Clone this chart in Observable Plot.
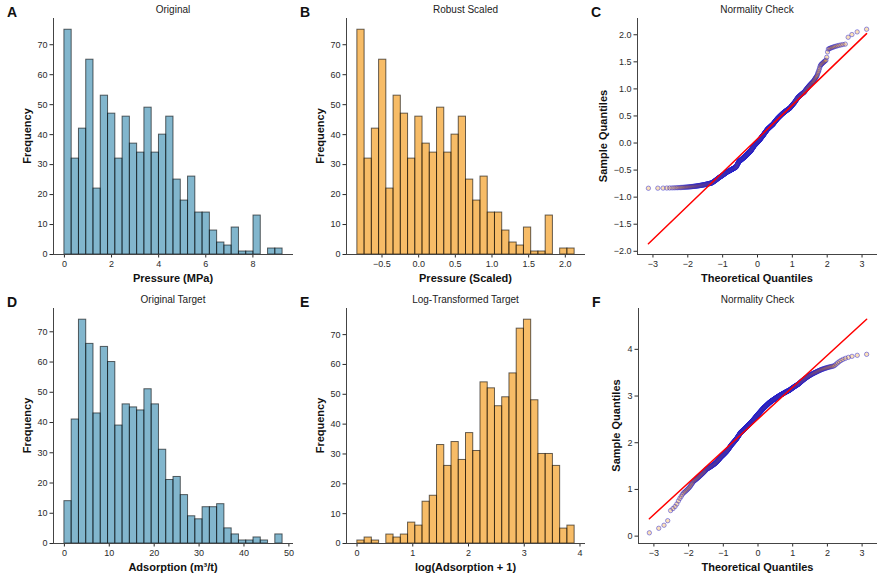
<!DOCTYPE html>
<html>
<head>
<meta charset="utf-8">
<script src="https://cdn.jsdelivr.net/npm/d3@7"></script>
<script src="https://cdn.jsdelivr.net/npm/@observablehq/plot@0.6"></script>
<style>
  body { margin: 0; background: #fff; }
  #fig { position: relative; width: 884px; height: 580px; overflow: hidden; }
  #fig svg.panel { position: absolute; overflow: visible; }
  #labels { position: absolute; left: 0; top: 0; pointer-events: none; }
</style>
</head>
<body>
<div id="fig"></div>
<script>
// ---- Histogram data (30 bins each) ----
const pressureCounts = [75,32,42,65,22,53,47,32,46,37,34,49,34,40,46,25,18,26,14,14,8,4,3,9,1,1,13,0,2,2];
const pressureRange = [0.0, 9.26];            // MPa
const pressureScaledRange = [-0.836, 2.127];  // robust-scaled
const adsorptionCounts = [14,41,74,66,43,65,60,39,46,45,44,51,46,31,21,22,16,9,8,12,12,13,5,3,1,1,2,1,0,3];
const adsorptionRange = [0.006, 48.6];        // m³/t
const logAdsorptionCounts = [1,2,1,0,3,2,3,7,6,14,16,33,26,34,28,37,31,54,52,46,49,57,72,75,48,30,30,26,5,6];
const logAdsorptionRange = [0.006, 3.904];

// ---- Tick values ----
const freqTicks = [0,10,20,30,40,50,60,70];
const pressureTicks = [0,2,4,6,8];
const scaledTicks = [-0.5,0,0.5,1,1.5,2];
const adsorptionTicks = [0,10,20,30,40,50];
const logTicks = [0,1,2,3,4];
const theoTicks = [-3,-2,-1,0,1,2,3];
const qqScaledTicks = [-2,-1.5,-1,-0.5,0,0.5,1,1.5,2];
const qqLogTicks = [0,1,2,3,4];

const BLUE = "#2E86AB", ORANGE = "#F18F01";
const FONT = "'Liberation Sans', Arial, Helvetica, sans-serif";

// ---- helpers ----
function binsFrom(counts, [lo, hi]) {
  const w = (hi - lo) / counts.length;
  return counts.map((c, i) => ({x1: lo + i * w, x2: lo + (i + 1) * w, count: c}));
}
// sample values spread evenly inside each histogram bin (sorted)
function samplesFrom(counts, range) {
  const out = [];
  for (const b of binsFrom(counts, range)) {
    for (let j = 0; j < b.count; j++) out.push(b.x1 + (j + 0.5) / b.count * (b.x2 - b.x1));
  }
  return out;
}
// inverse standard normal CDF (Acklam)
function normInv(p) {
  const a=[-3.969683028665376e+01,2.209460984245205e+02,-2.759285104469687e+02,1.383577518672690e+02,-3.066479806614716e+01,2.506628277459239e+00];
  const b=[-5.447609879822406e+01,1.615858368580409e+02,-1.556989798598866e+02,6.680131188771972e+01,-1.328068155288572e+01];
  const c=[-7.784894002430293e-03,-3.223964580411365e-01,-2.400758277161838e+00,-2.549732539343734e+00,4.374664141464968e+00,2.938163982698783e+00];
  const d=[7.784695709041462e-03,3.224671290700398e-01,2.445134137142996e+00,3.754408661907416e+00];
  const pl = 0.02425, ph = 1 - pl;
  let q, r;
  if (p < pl) { q = Math.sqrt(-2*Math.log(p)); return (((((c[0]*q+c[1])*q+c[2])*q+c[3])*q+c[4])*q+c[5])/((((d[0]*q+d[1])*q+d[2])*q+d[3])*q+1); }
  if (p <= ph) { q = p - 0.5; r = q*q; return (((((a[0]*r+a[1])*r+a[2])*r+a[3])*r+a[4])*r+a[5])*q/(((((b[0]*r+b[1])*r+b[2])*r+b[3])*r+b[4])*r+1); }
  q = Math.sqrt(-2*Math.log(1-p)); return -(((((c[0]*q+c[1])*q+c[2])*q+c[3])*q+c[4])*q+c[5])/((((d[0]*q+d[1])*q+d[2])*q+d[3])*q+1);
}
// probability plot: Filliben order-statistic medians + least-squares line
function probplot(sorted) {
  const n = sorted.length;
  const mn = Math.pow(0.5, 1 / n);
  const pts = sorted.map((s, i) => {
    const m = i === 0 ? 1 - mn : i === n - 1 ? mn : (i + 1 - 0.3175) / (n + 0.365);
    return {t: normInv(m), s};
  });
  const mt = d3.mean(pts, d => d.t), ms = d3.mean(pts, d => d.s);
  const slope = d3.sum(pts, d => (d.t - mt) * (d.s - ms)) / d3.sum(pts, d => (d.t - mt) ** 2);
  const icpt = ms - slope * mt;
  const t0 = pts[0].t, t1 = pts[n - 1].t;
  return {pts, line: [{t: t0, s: icpt + slope * t0}, {t: t1, s: icpt + slope * t1}]};
}
// matplotlib-style 5% padding
function pad(lo, hi, f = 0.05) { const m = (hi - lo) * f; return [lo - m, hi + m]; }

const fig = document.getElementById("fig");
const ML = 60, MR = 12, MT = 10, MB = 30;
const axisColor = "#2a2a2a";

function axes(xd, yd, xt, yt, xf, yf) {
  return [
    Plot.axisX({ticks: xt, tickFormat: xf, tickSize: 3.5, tickPadding: 2.5, label: null, color: axisColor}),
    Plot.axisY({ticks: yt, tickFormat: yf, tickSize: 3.5, tickPadding: 2.5, label: null, color: axisColor}),
    Plot.ruleX([xd[0]], {stroke: "#444", strokeWidth: 1}),
    Plot.ruleY([yd[0]], {stroke: "#444", strokeWidth: 1})
  ];
}

function mount(plot, box) {
  plot.classList.add("panel");
  plot.style.left = (box.L - ML) + "px";
  plot.style.top = (box.T - MT) + "px";
  fig.append(plot);
}

function plotOpts(box, xd, yd, marks) {
  return {
    width: box.R - box.L + ML + MR,
    height: box.B - box.T + MT + MB,
    marginLeft: ML, marginRight: MR, marginTop: MT, marginBottom: MB,
    x: {domain: xd}, y: {domain: yd},
    style: {fontFamily: FONT, fontSize: "9px", color: axisColor, background: "transparent", overflow: "visible"},
    marks
  };
}

function histogram(box, counts, range, color, xt, xf) {
  const bins = binsFrom(counts, range).filter(b => b.count > 0);
  const xd = pad(range[0], range[1]);
  const yd = [0, d3.max(counts) * 1.05];
  mount(Plot.plot(plotOpts(box, xd, yd, [
    Plot.rect(bins, {x1: "x1", x2: "x2", y1: 0, y2: "count", inset: 0,
      fill: color, fillOpacity: 0.6, stroke: "black", strokeOpacity: 0.6, strokeWidth: 1}),
    ...axes(xd, yd, xt, freqTicks, xf, d => d3.format("d")(d))
  ])), box);
}

function qqplot(box, counts, range, yt, yf) {
  const {pts, line} = probplot(samplesFrom(counts, range));
  const xd = pad(d3.min(pts, d => d.t), d3.max(pts, d => d.t));
  const yd = pad(Math.min(d3.min(pts, d => d.s), line[0].s, line[1].s),
                 Math.max(d3.max(pts, d => d.s), line[0].s, line[1].s));
  mount(Plot.plot(plotOpts(box, xd, yd, [
    Plot.dot(pts, {x: "t", y: "s", r: 2.2, fill: ORANGE, fillOpacity: 0.28, stroke: "#1a1ad8", strokeOpacity: 0.45, strokeWidth: 1}),
    Plot.line(line, {x: "t", y: "s", stroke: "red", strokeWidth: 1.5}),
    ...axes(xd, yd, theoTicks, yt, d => d3.format("d")(d), yf)
  ])), box);
}

// ---- panel frames ----
const boxA = {L: 53, R: 293, T: 18, B: 254};
const boxB = {L: 346, R: 585, T: 18, B: 254};
const boxC = {L: 637, R: 877, T: 18, B: 254};
const boxD = {L: 53, R: 293, T: 308, B: 543};
const boxE = {L: 346, R: 585, T: 308, B: 543};
const boxF = {L: 638, R: 877, T: 308, B: 543};

histogram(boxA, pressureCounts, pressureRange, BLUE, pressureTicks, d => d3.format("d")(d));
histogram(boxB, pressureCounts, pressureScaledRange, ORANGE, scaledTicks, d => d3.format(".1f")(d));
qqplot(boxC, pressureCounts, pressureScaledRange, qqScaledTicks, d => d3.format(".1f")(d));
histogram(boxD, adsorptionCounts, adsorptionRange, BLUE, adsorptionTicks, d => d3.format("d")(d));
histogram(boxE, logAdsorptionCounts, logAdsorptionRange, ORANGE, logTicks, d => d3.format("d")(d));
qqplot(boxF, logAdsorptionCounts, logAdsorptionRange, qqLogTicks, d => d3.format("d")(d));

// ---- panel letters, titles and axis labels ----
const panels = [
  {box: boxA, letter: "A", title: "Original", xl: "Pressure (MPa)", yl: "Frequency", yoff: 22},
  {box: boxB, letter: "B", title: "Robust Scaled", xl: "Pressure (Scaled)", yl: "Frequency", yoff: 22},
  {box: boxC, letter: "C", title: "Normality Check", xl: "Theoretical Quantiles", yl: "Sample Quantiles", yoff: 30},
  {box: boxD, letter: "D", title: "Original Target", xl: "Adsorption (m³/t)", yl: "Frequency", yoff: 22},
  {box: boxE, letter: "E", title: "Log-Transformed Target", xl: "log(Adsorption + 1)", yl: "Frequency", yoff: 22},
  {box: boxF, letter: "F", title: "Normality Check", xl: "Theoretical Quantiles", yl: "Sample Quantiles", yoff: 18}
];
const svg = d3.select(fig).append("svg").attr("id", "labels")
  .attr("width", 884).attr("height", 580)
  .style("font-family", FONT).style("fill", "#111");
for (const p of panels) {
  const {L, R, T, B} = p.box;
  const cx = (L + R) / 2, cy = (T + B) / 2;
  svg.append("text").attr("x", L - 46).attr("y", T - 1).attr("font-size", 14).attr("font-weight", "bold").text(p.letter);
  svg.append("text").attr("x", cx).attr("y", T - 5).attr("font-size", 10).attr("text-anchor", "middle").attr("fill", "#222").text(p.title);
  svg.append("text").attr("x", cx).attr("y", B + 28).attr("font-size", 11).attr("font-weight", "bold").attr("text-anchor", "middle").text(p.xl);
  svg.append("text").attr("transform", `translate(${L - p.yoff},${cy}) rotate(-90)`)
    .attr("font-size", 11).attr("font-weight", "bold").attr("text-anchor", "middle").text(p.yl);
}
</script>
</body>
</html>
